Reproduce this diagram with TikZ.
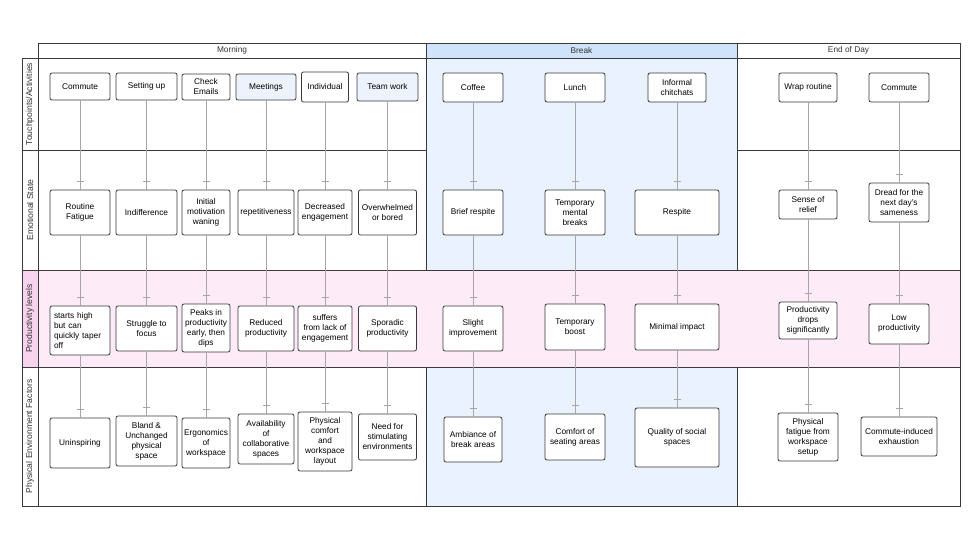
\documentclass[tikz,border=0pt]{standalone}
\usepackage{fontspec}
\setmainfont{Liberation Sans}
\usetikzlibrary{decorations.markings}
\definecolor{frm}{HTML}{3A3A3A}
\definecolor{pinkbg}{HTML}{FDEBF7}
\definecolor{pinklab}{HTML}{F8D3EE}
\definecolor{bluebg}{HTML}{E9F2FD}
\definecolor{bluehd}{HTML}{CFE3FB}
\definecolor{boxblue}{HTML}{EDF3FD}
\begin{document}
\begin{tikzpicture}[x=1pt,y=-1pt,
  cell/.style={draw=frm,line width=0.9pt},
  lab/.style={rotate=90,font=\fontsize{8.6}{9}\selectfont,text=black!80},
  hd/.style={font=\fontsize{8.3}{9}\selectfont,text=black!80},
  bx/.style={draw=frm,line width=0.8pt,rounded corners=2pt,fill=white,align=center,
     font=\fontsize{8.3}{10}\selectfont,inner sep=1pt},
  cn/.style={draw=gray!70,line width=0.6pt,postaction={decorate},
     decoration={markings,mark=at position -8pt with {\draw[gray!70,line width=0.6pt] (0,-3.5pt)--(0,3.5pt);}}}
]
\useasboundingbox (0,0) rectangle (980,551);
\fill[white] (0,0) rectangle (980,551);
% break column
\draw[cell,fill=bluebg] (426,58) rectangle (737,506);
% morning & end rows
\foreach \ya/\yb in {58/150,150/270,367/506}{
  \draw[cell,fill=white] (38,\ya) rectangle (426,\yb);
  \draw[cell,fill=white] (737,\ya) rectangle (960,\yb);
}
% productivity row
\draw[cell,fill=pinkbg] (38,270) rectangle (960,367);
% headers
\draw[cell,fill=white] (38,43) rectangle (426,58);
\draw[cell,fill=bluehd] (426,43) rectangle (737,58);
\draw[cell,fill=white] (737,43) rectangle (960,58);
\node[hd] (hm) at (232,50.5) {Morning};
\node[hd] (hb) at (581.5,50.5) {Break};
\node[hd] (he) at (848.5,50.5) {End of Day};
% row labels
\draw[cell,fill=white] (22,58) rectangle (38,150);
\draw[cell,fill=white] (22,150) rectangle (38,270);
\draw[cell,fill=pinklab] (22,270) rectangle (38,367);
\draw[cell,fill=white] (22,367) rectangle (38,506);
\node[lab] (l1) at (30,104) {Touchpoints/Activities};
\node[lab] (l2) at (30,210) {Emotional State};
\node[lab] (l3) at (30,318.5) {Productivity levels};
\node[lab] (l4) at (30,436.5) {Physical Environment Factors};
% box macro: name, cx, top, bottom, width, text, extra
\newcommand\bxx[7]{\node[bx,minimum width=#5pt,minimum height=#4pt-#3pt,#7] (#1) at (#2,{(#3+#4)/2}) {#6};}
% row 1
\bxx{a1}{80}{73}{100}{60}{Commute}{}
\bxx{a2}{146.5}{73}{100}{61}{Setting up}{}
\bxx{a3}{206}{74}{100}{48}{Check\\Emails}{}
\bxx{a4}{266}{74}{100}{60}{Meetings}{fill=boxblue}
\bxx{a5}{325}{72}{102}{47}{Individual}{}
\bxx{a6}{387.5}{73}{101}{61}{Team work}{fill=boxblue}
\bxx{a7}{473}{73}{102}{60}{Coffee}{}
\bxx{a8}{575}{73}{102}{60}{Lunch}{}
\bxx{a9}{677}{73}{102}{58}{Informal\\chitchats}{}
\bxx{a10}{808}{73}{102}{58}{Wrap routine}{}
\bxx{a11}{899}{73}{102}{60}{Commute}{}
% row 2
\bxx{b1}{80}{190}{235}{60}{Routine\\Fatigue}{}
\bxx{b2}{146.5}{190}{235}{61}{Indifference}{}
\bxx{b3}{206}{190}{235}{48}{Initial\\motivation\\waning}{}
\bxx{b4}{266}{190}{235}{56}{repetitiveness}{}
\bxx{b5}{325}{190}{235}{54}{Decreased\\engagement}{}
\bxx{b6}{387.5}{190}{235}{58}{Overwhelmed\\or bored}{}
\bxx{b7}{473}{190}{235}{60}{Brief respite}{}
\bxx{b8}{575}{190}{235}{60}{Temporary\\mental\\breaks}{}
\bxx{b9}{677}{190}{235}{84}{Respite}{}
\bxx{b10}{808}{190}{219}{58}{Sense of\\relief}{}
\bxx{b11}{899}{183}{222}{60}{Dread for the\\next day's\\sameness}{}
% row 3
\bxx{c1}{80}{306}{355}{60}{starts high\\but can\\quickly taper\\off}{align=left,text width=52pt}
\bxx{c2}{146.5}{306}{351}{61}{Struggle to\\focus}{}
\bxx{c3}{206}{304}{352}{48}{Peaks in\\productivity\\early, then\\dips}{}
\bxx{c4}{266}{306}{351}{56}{Reduced\\productivity}{}
\bxx{c5}{325}{306}{351}{54}{suffers\\from lack of\\engagement}{}
\bxx{c6}{387.5}{306}{351}{58}{Sporadic\\productivity}{}
\bxx{c7}{473}{306}{351}{60}{Slight\\improvement}{}
\bxx{c8}{575}{304}{350}{60}{Temporary\\boost}{}
\bxx{c9}{677}{304}{350}{84}{Minimal impact}{}
\bxx{c10}{808}{302}{339}{58}{Productivity\\drops\\significantly}{}
\bxx{c11}{899}{304}{344}{60}{Low\\productivity}{}
% row 4
\bxx{d1}{80}{418}{468}{60}{Uninspiring}{}
\bxx{d2}{146.5}{416}{466}{61}{Bland \&\\Unchanged\\physical\\space}{}
\bxx{d3}{206}{418}{468}{48}{Ergonomics\\of\\workspace}{}
\bxx{d4}{266}{414}{464}{56}{Availability\\of\\collaborative\\spaces}{}
\bxx{d5}{325}{412}{471}{54}{Physical\\comfort\\and\\workspace\\layout}{}
\bxx{d6}{387.5}{414}{460}{58}{Need for\\stimulating\\environments}{}
\bxx{d7}{473}{417}{462}{58}{Ambiance of\\break areas}{}
\bxx{d8}{575}{414}{460}{60}{Comfort of\\seating areas}{}
\bxx{d9}{677}{408}{467}{84}{Quality of social\\spaces}{}
\bxx{d10}{808}{413}{461}{60}{Physical\\fatigue from\\workspace\\setup}{}
\bxx{d11}{899}{417}{456}{76}{Commute-induced\\exhaustion}{}
% connectors
\foreach \i in {1,...,11}{
  \path[cn] (a\i.south) -- (a\i.south |- b\i.north);
  \path[cn] (b\i.south) -- (b\i.south |- c\i.north);
  \path[cn] (c\i.south) -- (c\i.south |- d\i.north);
}
\end{tikzpicture}
\end{document}
